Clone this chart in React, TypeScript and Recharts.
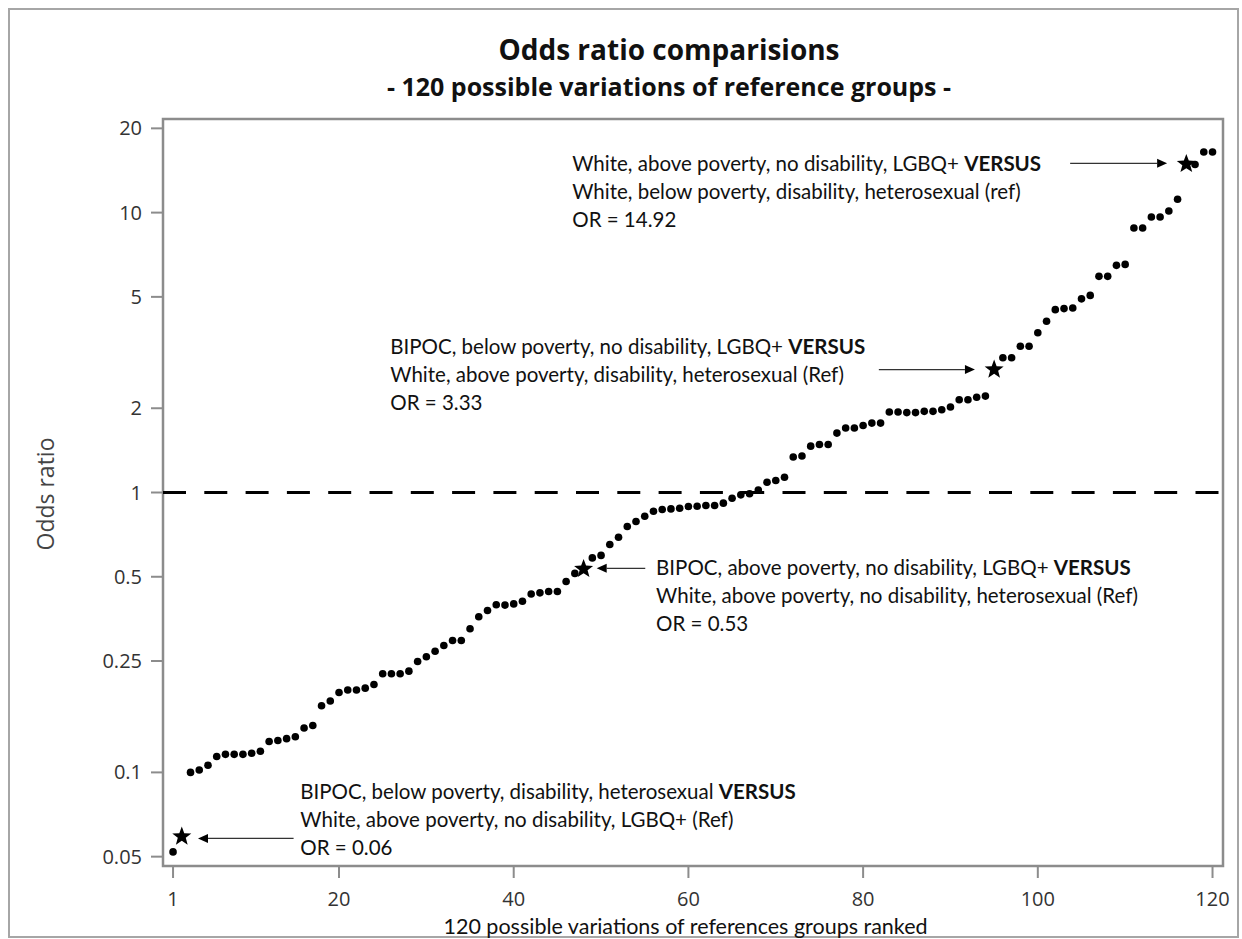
import React from 'react';
import { ScatterChart, Scatter, XAxis, YAxis, ReferenceLine, ReferenceArea, ReferenceDot } from 'recharts';

// odds ratio for each of the 120 ranked comparisons (rank = index + 1)
const oddsRatios = [
  0.052, 0.059, 0.100, 0.102, 0.106, 0.114, 0.116, 0.116, 0.116, 0.117,
  0.119, 0.129, 0.130, 0.132, 0.134, 0.144, 0.147, 0.173, 0.180, 0.193,
  0.197, 0.197, 0.200, 0.206, 0.225, 0.225, 0.225, 0.230, 0.249, 0.259,
  0.271, 0.284, 0.296, 0.296, 0.326, 0.360, 0.379, 0.397, 0.396, 0.400,
  0.409, 0.434, 0.438, 0.443, 0.443, 0.481, 0.514, 0.533, 0.584, 0.596,
  0.652, 0.692, 0.756, 0.788, 0.823, 0.857, 0.870, 0.874, 0.879, 0.891,
  0.893, 0.899, 0.899, 0.916, 0.954, 0.981, 0.990, 1.02, 1.088, 1.104,
  1.134, 1.34, 1.35, 1.464, 1.484, 1.484, 1.63, 1.70, 1.70, 1.736,
  1.77, 1.77, 1.94, 1.94, 1.93, 1.93, 1.95, 1.95, 1.975, 2.02,
  2.145, 2.145, 2.19, 2.21, 2.75, 3.03, 3.03, 3.33, 3.33, 3.72,
  4.09, 4.50, 4.54, 4.56, 4.92, 5.06, 5.92, 5.92, 6.48, 6.53,
  8.81, 8.81, 9.64, 9.64, 10.13, 11.16, 14.92, 14.85, 16.47, 16.47,
];

// highlighted comparisons, drawn as stars
const starRanks = [2, 48, 95, 117];

const xTicks = [1, 20, 40, 60, 80, 100, 120];
const yTicks = [0.05, 0.1, 0.25, 0.5, 1, 2, 5, 10, 20];

// annotation text blocks: anchor (rank, OR) of first line, and the lines
const notes = [
  {
    x: 46.7, y: 14.13,
    lines: ['White, above poverty, no disability, LGBQ+ ', 'White, below poverty, disability, heterosexual (ref)', 'OR = 14.92'],
    arrow: { from: 103.7, to: 114.8, y: 15.0 },
  },
  {
    x: 25.87, y: 3.12,
    lines: ['BIPOC, below poverty, no disability, LGBQ+ ', 'White, above poverty, disability, heterosexual (Ref)', 'OR = 3.33'],
    arrow: { from: 81.8, to: 92.8, y: 2.75 },
  },
  {
    x: 56.3, y: 0.506,
    lines: ['BIPOC, above poverty, no disability, LGBQ+ ', 'White, above poverty, no disability, heterosexual (Ref)', 'OR = 0.53'],
    arrow: { from: 55.06, to: 49.5, y: 0.536 },
  },
  {
    x: 15.57, y: 0.0801,
    lines: ['BIPOC, below poverty, disability, heterosexual ', 'White, above poverty, no disability, LGBQ+ (Ref)', 'OR = 0.06'],
    arrow: { from: 14.8, to: 3.86, y: 0.0581 },
  },
];

const dotData = oddsRatios
  .map((v, i) => ({ rank: i + 1, or: v }))
  .filter((d) => !starRanks.includes(d.rank));
const starData = starRanks.map((r) => ({ rank: r, or: oddsRatios[r - 1] }));

const noteFont = 'Lato, "Open Sans", sans-serif';
const axisFont = '"Open Sans", "Noto Sans", sans-serif';

const Dot = (p: any) => <circle cx={p.cx} cy={p.cy} r={3.8} fill="#000" />;

const Star = (p: any) => {
  const R = 10, r = 4.2;
  const pts: string[] = [];
  for (let k = 0; k < 10; k++) {
    const a = -Math.PI / 2 + (k * Math.PI) / 5;
    const rad = k % 2 === 0 ? R : r;
    pts.push(`${p.cx + rad * Math.cos(a)},${p.cy + rad * Math.sin(a)}`);
  }
  return <polygon points={pts.join(' ')} fill="#000" />;
};

const Arrow = (p: any) => {
  const { x1, y1, x2, y2 } = p;
  const ang = Math.atan2(y2 - y1, x2 - x1);
  const L = 10, W = 4.5;
  const c = Math.cos(ang), s = Math.sin(ang);
  const bx = x2 - L * c, by = y2 - L * s;
  return (
    <g>
      <line x1={x1} y1={y1} x2={bx} y2={by} stroke="#333" strokeWidth={1.3} />
      <polygon points={`${x2},${y2} ${bx - W * s},${by + W * c} ${bx + W * s},${by - W * c}`} fill="#000" />
    </g>
  );
};

const NoteText = (p: any) => (
  <text x={p.cx} y={p.cy} fontFamily={noteFont} fontSize={20.5} fill="#111">
    <tspan x={p.cx} dy={0}>
      {p.lines[0]}
      <tspan fontWeight="bold">VERSUS</tspan>
    </tspan>
    <tspan x={p.cx} dy={28}>{p.lines[1]}</tspan>
    <tspan x={p.cx} dy={28}>{p.lines[2]}</tspan>
  </text>
);

export default function App() {
  return (
    <div style={{ position: 'absolute', left: 0, top: 0, width: 1242, height: 939, background: '#fff' }}>
      <div style={{ position: 'absolute', left: 8, top: 8, width: 1227, height: 926, border: '2px solid #a6a6a6' }} />
      <div style={{ position: 'absolute', left: 0, width: 1338, top: 31, textAlign: 'center', fontFamily: axisFont, fontWeight: 700, fontSize: 28, color: '#111', lineHeight: '36px' }}>
        Odds ratio comparisions
      </div>
      <div style={{ position: 'absolute', left: 0, width: 1338, top: 70, textAlign: 'center', fontFamily: axisFont, fontWeight: 700, fontSize: 25, color: '#111', lineHeight: '32px' }}>
        - 120 possible variations of reference groups -
      </div>
      <div style={{ position: 'absolute', left: 45, top: 494, transform: 'translate(-50%, -50%) rotate(-90deg)', fontFamily: axisFont, fontSize: 23, color: '#444', whiteSpace: 'nowrap' }}>
        Odds ratio
      </div>
      <div style={{ position: 'absolute', left: 0, width: 1371, top: 912, textAlign: 'center', fontFamily: noteFont, fontSize: 21.5, color: '#111', lineHeight: '28px' }}>
        120 possible variations of references groups ranked
      </div>
      <ScatterChart width={1242} height={939} margin={{ top: 119, right: 19, bottom: 0, left: 0 }} style={{ position: 'absolute', left: 0, top: 0 }}>
        <XAxis
          type="number"
          dataKey="rank"
          domain={[-0.15, 121.2]}
          ticks={xTicks}
          allowDataOverflow
          height={73}
          axisLine={false}
          tickSize={12}
          tickMargin={14}
          tickLine={{ stroke: '#8c8c8c', strokeWidth: 2 }}
          tick={{ fontSize: 20, fill: '#333', fontFamily: axisFont }}
          interval={0}
        />
        <YAxis
          type="number"
          dataKey="or"
          scale="log"
          domain={[0.0463, 21.6]}
          ticks={yTicks}
          allowDataOverflow
          width={163}
          axisLine={false}
          tickSize={12}
          tickMargin={9}
          tickLine={{ stroke: '#8c8c8c', strokeWidth: 2 }}
          tick={{ fontSize: 20, fill: '#333', fontFamily: axisFont }}
          interval={0}
        />
        <ReferenceArea x1={-0.15} x2={121.2} y1={0.0463} y2={21.6} fill="none" stroke="#8c8c8c" strokeWidth={2.5} ifOverflow="visible" />
        <ReferenceLine y={1} stroke="#000" strokeWidth={3} strokeDasharray="23 18.3" />
        {notes.map((n, i) => (
          <ReferenceLine
            key={`a${i}`}
            segment={[{ x: n.arrow.from, y: n.arrow.y }, { x: n.arrow.to, y: n.arrow.y }]}
            ifOverflow="visible"
            shape={(p: any) => <Arrow {...p} />}
          />
        ))}
        {notes.map((n, i) => (
          <ReferenceDot
            key={`t${i}`}
            x={n.x}
            y={n.y}
            r={0}
            ifOverflow="visible"
            shape={(p: any) => <NoteText {...p} lines={n.lines} />}
          />
        ))}
        <Scatter data={dotData} shape={(p: any) => <Dot {...p} />} isAnimationActive={false} />
        <Scatter data={starData} shape={(p: any) => <Star {...p} />} isAnimationActive={false} />
      </ScatterChart>
    </div>
  );
}
